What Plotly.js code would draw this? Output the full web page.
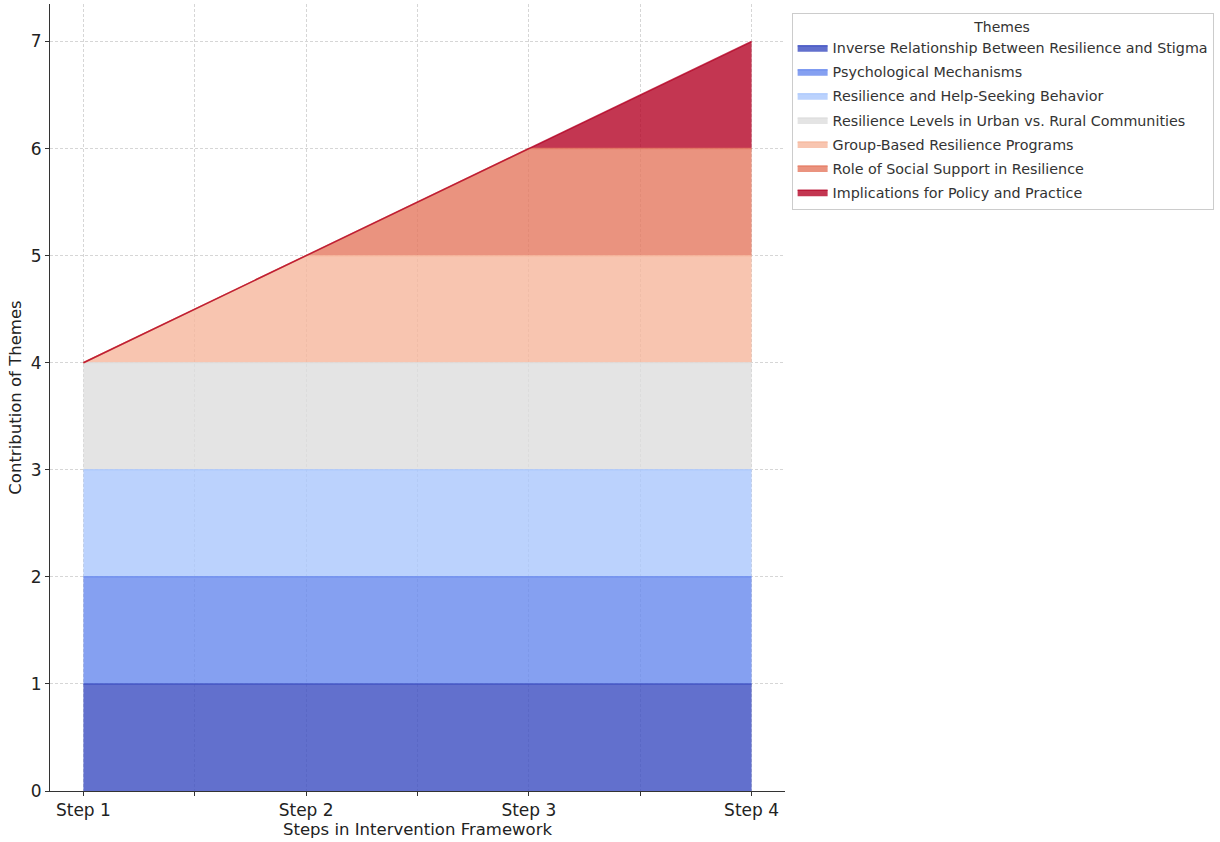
<!DOCTYPE html>
<html>
<head>
<meta charset="utf-8">
<script src="https://cdn.plot.ly/plotly-3.0.1.min.js"></script>
<style>html,body{margin:0;padding:0;background:#fff;}#chart{width:1220px;height:842px;}</style>
</head>
<body>
<div id="chart"></div>
<script>
const steps = ["Step 1", "Step 2", "Step 3", "Step 4"];
const themes = [
  "Inverse Relationship Between Resilience and Stigma",
  "Psychological Mechanisms",
  "Resilience and Help-Seeking Behavior",
  "Resilience Levels in Urban vs. Rural Communities",
  "Group-Based Resilience Programs",
  "Role of Social Support in Resilience",
  "Implications for Policy and Practice"
];
const inverseRel = [1, 1, 1, 1];
const psychMech = [1, 1, 1, 1];
const helpSeeking = [1, 1, 1, 1];
const urbanRural = [1, 1, 1, 1];
const groupBased = [0, 1, 1, 1];
const socialSupport = [0, 0, 1, 1];
const policyPractice = [0, 0, 0, 1];
const seriesValues = [inverseRel, psychMech, helpSeeking, urbanRural, groupBased, socialSupport, policyPractice];
const colors = [
  "rgba(59,76,192,0.8)",
  "rgba(103,136,238,0.8)",
  "rgba(170,199,253,0.8)",
  "rgba(221,221,221,0.8)",
  "rgba(246,183,156,0.8)",
  "rgba(229,120,95,0.8)",
  "rgba(180,4,38,0.8)"
];
const xIdx = steps.map((s, i) => i);

const traces = themes.map((name, k) => ({
  type: "scatter",
  mode: "lines",
  name: name,
  legendgroup: "g" + k,
  x: xIdx,
  y: seriesValues[k],
  stackgroup: "one",
  fill: "tonexty",
  fillcolor: colors[k],
  line: {color: colors[k], width: 1.5},
  hoverinfo: "x+y+name"
}));

const gridColor = "#d6d6d6";
const layout = {
  width: 1220,
  height: 842,
  margin: {l: 50, r: 435, t: 4, b: 51},
  paper_bgcolor: "#fff",
  plot_bgcolor: "#fff",
  font: {family: "DejaVu Sans, sans-serif", size: 14, color: "#222"},
  showlegend: true,
  legend: {
    x: 1.009, y: 0.989, xanchor: "left", yanchor: "top",
    bordercolor: "#cccccc", borderwidth: 1,
    bgcolor: "#fff",
    font: {family: "DejaVu Sans, sans-serif", size: 14.3, color: "#333"},
    title: {text: "Themes", side: "top center", font: {size: 14, color: "#333"}},
    traceorder: "grouped",
    tracegroupgap: 2.5
  },
  xaxis: {
    range: [-0.15, 3.15],
    tickvals: xIdx,
    ticktext: steps,
    ticks: "outside",
    ticklen: 4,
    tickcolor: "#333",
    showline: true,
    linecolor: "#333",
    linewidth: 1,
    showgrid: true,
    gridcolor: gridColor,
    griddash: "3px,2px",
    gridwidth: 1,
    zeroline: false,
    tickfont: {size: 17, color: "#222"},
    title: {text: "Steps in Intervention Framework", font: {size: 16.5, color: "#222"}, standoff: 4},
    minor: {dtick: 0.5, tick0: 0, ticks: "outside", ticklen: 4, tickcolor: "#333", showgrid: true, gridcolor: gridColor, griddash: "3px,2px", gridwidth: 1}
  },
  yaxis: {
    range: [0, 7.35],
    dtick: 1,
    ticks: "outside",
    ticklen: 4,
    tickcolor: "#333",
    showline: true,
    linecolor: "#333",
    linewidth: 1,
    showgrid: true,
    gridcolor: gridColor,
    griddash: "3px,2px",
    gridwidth: 1,
    zeroline: false,
    tickfont: {size: 17, color: "#222"},
    title: {text: "Contribution of Themes", font: {size: 16.5, color: "#222"}, standoff: 4}
  }
};

Plotly.newPlot("chart", traces, layout, {displayModeBar: false, staticPlot: true});
</script>
</body>
</html>
